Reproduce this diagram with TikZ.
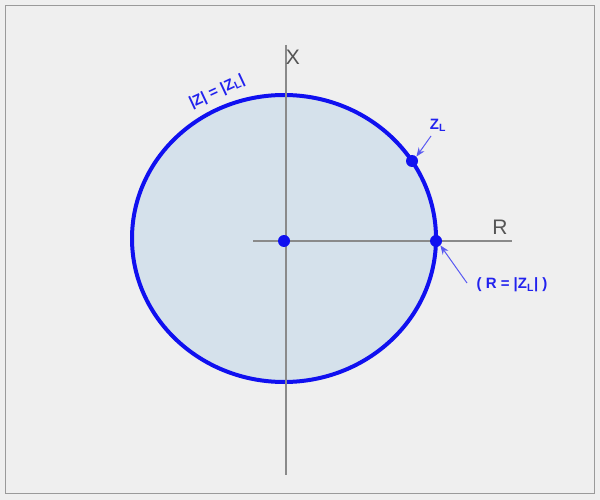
\documentclass[tikz,border=0pt]{standalone}
\usepackage{fontspec}
\setmainfont{Liberation Sans}
\usetikzlibrary{arrows.meta}
\definecolor{bg}{HTML}{EFEFEF}
\definecolor{frame}{HTML}{9A9A9A}
\definecolor{fillc}{HTML}{D5E1EB}
\definecolor{ringc}{HTML}{1010F0}
\definecolor{axisc}{HTML}{8A8A8A}
\definecolor{txtg}{HTML}{555555}
\definecolor{lblc}{HTML}{2222EE}
\begin{document}
\begin{tikzpicture}[x=1pt,y=-1pt,
  axis/.style={draw=axisc,line width=1.1pt},
  ring/.style={draw=ringc,fill=fillc,line width=4pt},
  dotm/.style={circle,fill=ringc,inner sep=0pt,minimum size=12pt},
  axlbl/.style={text=txtg,font=\fontsize{21}{23}\selectfont,inner sep=0pt},
  blbl/.style={text=lblc,font=\bfseries\fontsize{15}{17}\selectfont,inner sep=0pt},
  pointer/.style={draw=lblc!75!white,line width=1pt,-{Stealth[length=9pt,width=7pt]}}]
\useasboundingbox (0,0) rectangle (600,500);
\fill[bg] (0,0) rectangle (600,500);
\draw[frame,line width=1.6pt] (5.5,5.5) rectangle (594.5,493.5);
\draw[ring] (284,238.5) ellipse [x radius=152, y radius=143.5];
\coordinate (xtop) at (286,45);
\coordinate (xbot) at (286,475);
\coordinate (rleft) at (253,241);
\coordinate (rright) at (512,241);
\draw[axis] (xtop) -- (xbot);
\draw[axis] (rleft) -- (rright);
\node[dotm] (o) at (284,241) {};
\node[dotm] (pr) at (436,241) {};
\node[dotm] (pz) at (412,161) {};
\node[axlbl] (xl) at (293,57) {X};
\node[axlbl] (rl) at (500,227) {R};
\node[blbl,rotate=25] (zz) at (217,92) {|Z| = |Z\textsubscript{L}|};
\node[blbl] (zl) at (438,125) {Z\textsubscript{L}};
\node[blbl] (rz) at (512,285) {( R = |Z\textsubscript{L}| )};
\coordinate (zls) at (431,136);
\coordinate (rzs) at (467,283);
\draw[pointer] (zls) -- (pz.north east);
\draw[pointer] (rzs) -- (pr.south east);
\end{tikzpicture}
\end{document}
